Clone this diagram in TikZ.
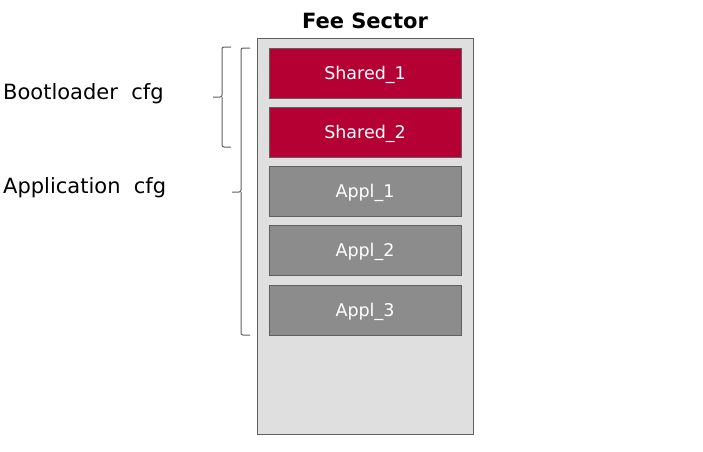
\documentclass[tikz,border=0pt]{standalone}
\usepackage{fontspec}
\setmainfont{DejaVu Sans}
\definecolor{feered}{HTML}{B50033}
\definecolor{feegray}{HTML}{8C8C8C}
\definecolor{feebg}{HTML}{DFDFDF}
\definecolor{feeline}{HTML}{606060}
\begin{document}
\begin{tikzpicture}[x=1pt,y=-1pt,
  blk/.style={draw=feeline, line width=0.8pt, minimum width=192pt, minimum height=50pt, inner sep=0pt, text height=12pt, text depth=0pt, text=white, font=\fontsize{17.5}{20}\selectfont},
  redblk/.style={blk, fill=feered},
  grayblk/.style={blk, fill=feegray},
  lbl/.style={anchor=west, inner sep=0pt, font=\fontsize{21}{25}\selectfont},
  brc/.style={draw=feeline, line width=1pt, rounded corners=2pt}]
\useasboundingbox (0,0) rectangle (703,451);
\node[draw=feeline, line width=0.8pt, fill=feebg, minimum width=216pt, minimum height=396pt, inner sep=0pt] (sector) at (365,236) {};
\node[font=\bfseries\fontsize{21}{24}\selectfont, inner sep=0pt] (title) at (365,21) {Fee Sector};
\node[redblk] (s1) at (365,73) {Shared\_1};
\node[redblk] (s2) at (365,132) {Shared\_2};
\node[grayblk] (a1) at (365,191) {Appl\_1};
\node[grayblk] (a2) at (365,250) {Appl\_2};
\node[grayblk] (a3) at (365,310) {Appl\_3};
\node[lbl] (boot) at (3,94) {Bootloader\ \ cfg};
\node[lbl] (app) at (3,188) {Application\ \ cfg};
% braces
\coordinate (b1top) at (231,47);
\coordinate (b1bot) at (231,147);
\coordinate (b1tip) at (213,97);
\draw[brc] (b1top) -- (222,47) -- (222,97) -- (b1tip);
\draw[brc] (b1bot) -- (222,147) -- (222,97);
\coordinate (b2top) at (250,48);
\coordinate (b2bot) at (250,335);
\coordinate (b2tip) at (232,192);
\draw[brc] (b2top) -- (241,48) -- (241,192) -- (b2tip);
\draw[brc] (b2bot) -- (241,335) -- (241,192);
\end{tikzpicture}
\end{document}
